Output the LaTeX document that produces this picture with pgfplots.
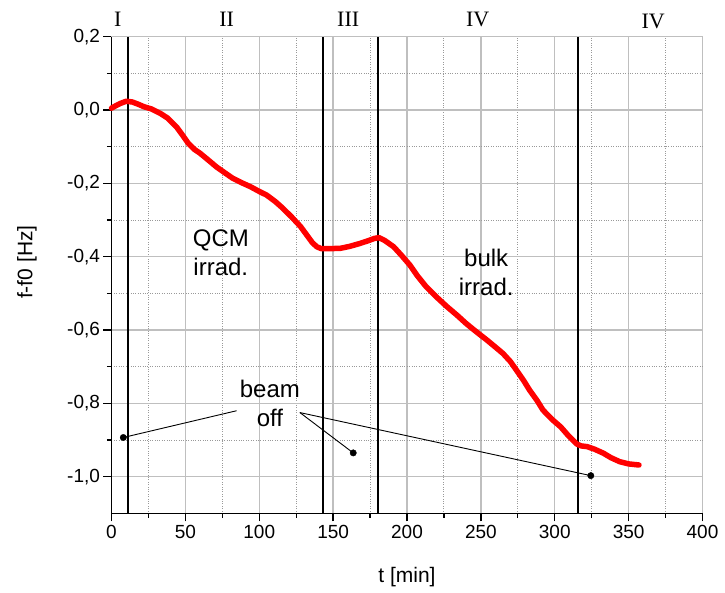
\documentclass[border=0pt]{standalone}
\usepackage{fontspec}
\setmainfont{Liberation Sans}
\newfontfamily\timesfont{Liberation Serif}
\usepackage{pgfplots}
\pgfplotsset{compat=1.18}
\begin{document}
\begin{tikzpicture}
\useasboundingbox (-111.5pt,-78.6pt) rectangle (613.5pt,513.4pt);
\begin{axis}[
  at={(0,0)}, anchor=south west,
  scale only axis, width=591pt, height=476.7pt,
  xmin=0, xmax=400, ymin=-1.1, ymax=0.2,
  axis x line*=bottom, axis y line*=left,
  axis line style={line width=1.3pt, black},
  xtick={0,50,100,150,200,250,300,350,400},
  ytick={-1.0,-0.8,-0.6,-0.4,-0.2,0,0.2},
  minor x tick num=1, minor y tick num=1,
  tick align=outside,
  major tick length=8pt, minor tick length=4.5pt,
  every tick/.style={black, line width=1.3pt},
  grid=both,
  major grid style={draw=black!25, line width=1.3pt},
  minor grid style={draw=black!40, dotted, line width=1pt},
  /pgf/number format/assume math mode=true,
  ticklabel style={font=\fontsize{19}{23}\selectfont},
  yticklabel style={/pgf/number format/.cd, fixed, fixed zerofill, precision=1, use comma},
  xticklabel style={/pgf/number format/.cd, fixed, precision=0},
  xlabel={t [min]}, ylabel={f-f0 [Hz]},
  label style={font=\fontsize{21}{25}\selectfont},
  xlabel style={at={(rel axis cs:0.5,-0.1334)}, anchor=center},
  ylabel style={at={(rel axis cs:-0.143,0.527)}, anchor=center},
  clip=false,
]
% phase separators
\addplot[black, line width=2pt] coordinates {(10.9,-1.1) (10.9,0.2)};
\addplot[black, line width=2pt] coordinates {(143.3,-1.1) (143.3,0.2)};
\addplot[black, line width=2pt] coordinates {(180.5,-1.1) (180.5,0.2)};
\addplot[black, line width=2pt] coordinates {(316,-1.1) (316,0.2)};
% data
\addplot[red, line width=5.5pt, line join=round, line cap=round] coordinates {
(0,0.005) (3,0.012) (6,0.018) (10,0.024) (14,0.022) (18,0.016) (22,0.009)
(27,0.003) (33,-0.009) (38,-0.022) (44,-0.046) (48,-0.068) (52,-0.091)
(56,-0.107) (60,-0.118) (66,-0.138) (71,-0.155) (77,-0.172) (82,-0.186)
(88,-0.198) (94,-0.209) (100,-0.222) (105,-0.232) (111,-0.250) (116,-0.268)
(122,-0.292) (128,-0.318) (132,-0.340) (136,-0.362) (139,-0.373) (142,-0.378)
(148,-0.378) (155,-0.377) (161,-0.372) (168,-0.364) (174,-0.356) (178,-0.350)
(181,-0.348) (185,-0.356) (191,-0.373) (196,-0.395) (202,-0.423) (207,-0.452)
(213,-0.482) (220,-0.510) (227,-0.536) (234,-0.560) (240,-0.582) (247,-0.605)
(254,-0.627) (260,-0.647) (265,-0.664) (270,-0.686) (274,-0.709) (279,-0.738)
(283,-0.764) (288,-0.792) (292,-0.818) (298,-0.843) (304,-0.864) (309,-0.887)
(315,-0.911) (318,-0.916) (322,-0.918) (327,-0.925) (333,-0.936) (338,-0.948)
(344,-0.959) (350,-0.965) (357,-0.968)
};
% beam off pointers
\addplot[black, line width=0.9pt] coordinates {(84.7,-0.820) (8.0,-0.893)};
\addplot[black, line width=0.9pt] coordinates {(127.5,-0.825) (163.6,-0.935)};
\addplot[black, line width=0.9pt] coordinates {(127.5,-0.825) (324.4,-0.997)};
\addplot[only marks, mark=*, mark size=3.2pt, black] coordinates {(8.0,-0.893) (163.6,-0.935) (324.4,-0.997)};
% annotations
\node[anchor=base, font=\fontsize{24}{29}\selectfont] at (axis cs:107.2,-0.785) {beam};
\node[anchor=base, font=\fontsize{24}{29}\selectfont] at (axis cs:107.2,-0.864) {off};
\node[anchor=base, font=\fontsize{24}{29}\selectfont] at (axis cs:74,-0.373) {QCM};
\node[anchor=base, font=\fontsize{24}{29}\selectfont] at (axis cs:74,-0.451) {irrad.};
\node[anchor=base, font=\fontsize{24}{29}\selectfont] at (axis cs:253.6,-0.427) {bulk};
\node[anchor=base, font=\fontsize{24}{29}\selectfont] at (axis cs:253.6,-0.507) {irrad.};
% phases
\node[anchor=base, font=\timesfont\fontsize{22}{26}\selectfont] at (axis cs:4.2,0.227) {I};
\node[anchor=base, font=\timesfont\fontsize{22}{26}\selectfont] at (axis cs:77.9,0.227) {II};
\node[anchor=base, font=\timesfont\fontsize{22}{26}\selectfont] at (axis cs:160.2,0.227) {III};
\node[anchor=base, font=\timesfont\fontsize{22}{26}\selectfont] at (axis cs:247.8,0.227) {IV};
\node[anchor=base, font=\timesfont\fontsize{22}{26}\selectfont] at (axis cs:366.6,0.223) {IV};
\end{axis}
\end{tikzpicture}
\end{document}
